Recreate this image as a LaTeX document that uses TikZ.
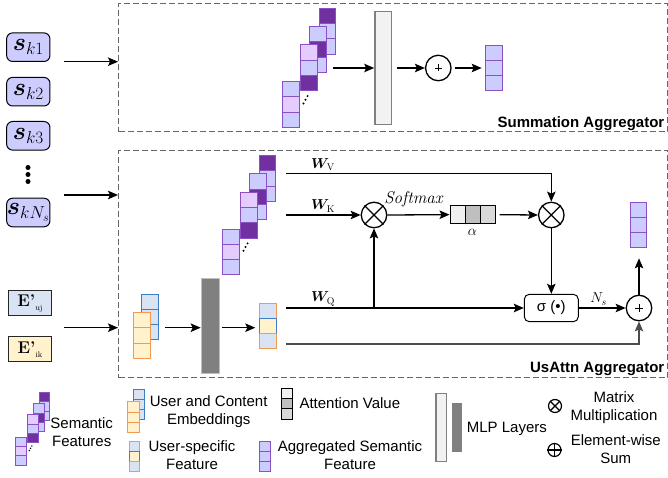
\documentclass[tikz,border=0pt]{standalone}
\usepackage{amsmath}
\usepackage{bm}
\usepackage{fontspec}
\setsansfont{Liberation Sans}
\usetikzlibrary{arrows.meta,calc}

\definecolor{semlight}{HTML}{CCCCFF}
\definecolor{sempink}{HTML}{E5CCFF}
\definecolor{semdark}{HTML}{7030A0}
\definecolor{semline}{HTML}{8B4FC6}
\definecolor{embblue}{HTML}{DAE3F3}
\definecolor{embblueline}{HTML}{3D7FC1}
\definecolor{embyel}{HTML}{FFF2CC}
\definecolor{embor}{HTML}{F19A50}
\definecolor{mlplight}{HTML}{F2F2F2}
\definecolor{mlpdark}{HTML}{808080}
\definecolor{dashgray}{HTML}{666666}
\definecolor{attA}{HTML}{F0F0F0}
\definecolor{attB}{HTML}{BFBFBF}
\definecolor{attC}{HTML}{D9D9D9}

% one stack of three cells (cell units), fills top to bottom
\newcommand\semstack[5]{%
  \draw[semcell,fill=#3] (#1,#2) rectangle ++(1,1);
  \draw[semcell,fill=#4] (#1,#2+1) rectangle ++(1,1);
  \draw[semcell,fill=#5] (#1,#2+2) rectangle ++(1,1);
}
% group of semantic stacks: x y (front stack top-left, px) cellw cellh dotradius
\newcommand\semgroup[5]{%
  \begin{scope}[shift={(#1pt,-#2pt)},x=#3pt,y=-#4pt]
    \semstack{2.2}{-4.8}{semdark}{semlight}{semlight}
    \semstack{1.65}{-3.6}{semlight}{semdark}{semlight}
    \semstack{1.1}{-2.4}{sempink}{semlight}{semdark}
    \semstack{0}{0}{semlight}{sempink}{semlight}
    \fill (1.27,1.42) circle[radius=#5pt];
    \fill (1.39,1.18) circle[radius=#5pt];
    \fill (1.51,0.94) circle[radius=#5pt];
  \end{scope}}
% column vector of three cells: x1 y1 x2 fills(3) outer-border mid-border cellh
\newcommand\vcol[9]{%
  \draw[line width=1pt,fill=#4,draw=#7] (#1,#2) rectangle (#3,#2+#9);
  \draw[line width=1pt,fill=#5,draw=#8] (#1,#2+#9) rectangle (#3,#2+2*#9);
  \draw[line width=1pt,fill=#6,draw=#7] (#1,#2+2*#9) rectangle (#3,#2+3*#9);
}

\begin{document}
\begin{tikzpicture}[x=1pt,y=-1pt,
  arr/.style={line width=1.3pt,-{Stealth[length=10pt,width=8.5pt,inset=2pt]}},
  ln/.style={line width=1.3pt},
  dbox/.style={draw=dashgray,line width=1pt,dash pattern=on 6pt off 3pt,inner sep=0pt,anchor=north west},
  sbox/.style={draw=black,line width=1pt,fill=semlight,rounded corners=6pt,minimum width=43.3pt,minimum height=28.6pt,inner sep=0pt,font=\fontsize{24}{28}\selectfont},
  ebox/.style={draw=black!85,line width=1pt,minimum width=43.4pt,minimum height=25.5pt,inner sep=0pt},
  opc/.style={circle,draw=black,line width=1.3pt,minimum size=25.5pt,inner sep=0pt},
  lopc/.style={circle,draw=black,line width=1.2pt,minimum size=13pt,inner sep=0pt},
  semcell/.style={draw=semline,line width=1pt},
  lgd/.style={font=\sffamily\fontsize{15}{18}\selectfont,align=center,inner sep=0pt},
  agg/.style={font=\sffamily\bfseries\fontsize{15}{18}\selectfont,anchor=east,inner sep=0pt},
  wlbl/.style={font=\fontsize{14}{16}\selectfont,inner sep=0pt},
]
\useasboundingbox (0,0) rectangle (668,478);

% ---------------- left inputs ----------------
\node[sbox] (sk1) at (28.3,47.2) {$\bm{s}_{k1}$};
\node[sbox] (sk2) at (28.3,91.7) {$\bm{s}_{k2}$};
\node[sbox] (sk3) at (28.3,135.8) {$\bm{s}_{k3}$};
\fill (28,167.5) circle[radius=2.5pt] (28,174.5) circle[radius=2.5pt] (28,181.5) circle[radius=2.5pt];
\node[sbox] (skN) at (28.3,212.5) {$\bm{s}_{kN_s}$};

\node[ebox,fill=embblue] (Euj) at (30,303) {{\fontsize{17}{20}\selectfont\bfseries E'}\raisebox{-4pt}{\fontsize{8}{9}\selectfont uj}};
\node[ebox,fill=embyel] (Eik) at (30,349.2) {{\fontsize{17}{20}\selectfont\bfseries E'}\raisebox{-4pt}{\fontsize{8}{9}\selectfont ik}};

% ---------------- aggregator boxes ----------------
\node[dbox,minimum width=549pt,minimum height=128.5pt] (sumbox) at (118,3) {};
\node[dbox,minimum width=549pt,minimum height=227pt] (attbox) at (118,150) {};

\coordinate (in1) at (64,61.7);
\coordinate (in2) at (64,195);
\coordinate (in3) at (64,327.7);
\draw[arr] (in1) -- (in1 -| sumbox.west);
\draw[arr] (in2) -- (in2 -| attbox.west);
\draw[arr] (in3) -- (in3 -| attbox.west);

% ---------------- Summation aggregator ----------------
\semgroup{282.3}{81.7}{16.7}{15.3}{1.1}
\coordinate (g1out) at (333,68);
\node[draw=mlpdark,fill=mlplight,line width=1.5pt,minimum width=16.7pt,minimum height=112.6pt,inner sep=0pt] (mlp1) at (383.3,68) {};
\node[opc] (sum1) at (438.3,68) {};
\draw[line width=0.9pt] ($(sum1)+(-3.5,0)$) -- ($(sum1)+(3.5,0)$) ($(sum1)+(0,-3.5)$) -- ($(sum1)+(0,3.5)$);
\vcol{485.7}{45.7}{502.3}{semlight}{semlight}{semlight}{semline}{semline}{15}
\coordinate (out1) at (485.7,68);
\draw[arr] (g1out) -- (mlp1.west);
\draw[arr,shorten <=5pt] (mlp1.east) -- (sum1.west);
\draw[arr,shorten <=3pt,shorten >=4pt] (sum1.east) -- (out1);
\node[agg] (sumlbl) at (664.5,123.5) {Summation Aggregator};

% ---------------- UsAttn aggregator ----------------
\semgroup{222.3}{229}{16.7}{15.3}{1.1}

% input embeddings
\vcol{141.7}{294.3}{158.3}{embblue}{embblue}{embblue}{embblueline}{embblueline}{15}
\vcol{133.3}{312.7}{150.7}{embyel}{embyel}{embyel}{embor}{embor}{15.2}
\coordinate (embout) at (165,327.7);
\node[draw=black!25,fill=mlpdark,line width=0.8pt,minimum width=18.3pt,minimum height=95pt,inner sep=0pt,anchor=north] (mlp2) at (210.2,278.3) {};
\vcol{259.3}{303.3}{276.7}{embblue}{embyel}{embblue}{embor}{embblueline}{15.2}
\coordinate (usf) at (259.3,327.7);
\draw[arr] (embout) -- (embout -| mlp2.west);
\draw[arr,shorten <=2pt,shorten >=4pt] (mlp2.east |- embout) -- (usf);

\coordinate (vst) at (286,173.5);
\coordinate (kst) at (286,215);
\coordinate (qst) at (286,308);
\coordinate (bst) at (286,344);

\node[opc] (mul1) at (374,215) {};
\draw[ln] (mul1.north west) -- (mul1.south east) (mul1.north east) -- (mul1.south west);
\node[opc] (mul2) at (551.3,215) {};
\draw[ln] (mul2.north west) -- (mul2.south east) (mul2.north east) -- (mul2.south west);

\fill[attA] (450,206) rectangle (465.2,223.3);
\fill[attB] (465.2,206) rectangle (480.4,223.3);
\fill[attC] (480.4,206) rectangle (495.7,223.3);
\draw[line width=1pt] (465.2,206) -- (465.2,223.3) (480.4,206) -- (480.4,223.3);
\node[draw,line width=1pt,minimum width=45.7pt,minimum height=17.3pt,inner sep=0pt] (alpha) at (472.85,214.65) {};
\node[wlbl] (alphalbl) at (472.5,232.5) {$\alpha$};

\node[draw,line width=1pt,rounded corners=5pt,minimum width=54pt,minimum height=27.4pt,inner sep=0pt,font=\sffamily\fontsize{15}{18}\selectfont] (sig) at (551.3,308) {σ (•)};
\node[opc] (add2) at (639,308) {};
\draw[line width=0.9pt] ($(add2)+(-4,0)$) -- ($(add2)+(4,0)$) ($(add2)+(0,-4)$) -- ($(add2)+(0,4)$);
\vcol{630}{202.3}{646.7}{semlight}{semlight}{semlight}{semline}{semline}{15.1}
\coordinate (out2) at (639,258.3);

\draw[arr] (vst) -| (mul2.north);
\draw[arr] (kst) -- (mul1.west);
\draw[arr] (mul1.east) -- (alpha.west);
\draw[arr,shorten <=3.5pt] (alpha.east) -- (mul2.west);
\draw[arr] (mul2.south) -- (sig.north);
\draw[arr] (qst) -- (sig.west);
\draw[arr] (mul1.south |- qst) -- (mul1.south);
\draw[arr] (sig.east) -- (add2.west);
\draw[arr,draw=black!70] (bst) -| (add2.south);
\draw[arr] (add2.north) -- (out2);

\node[wlbl] (wv) at (323,165) {$\bm{W}_{\mathrm{V}}$};
\node[wlbl] (wk) at (323,206) {$\bm{W}_{\mathrm{K}}$};
\node[wlbl] (wq) at (323,299) {$\bm{W}_{\mathrm{Q}}$};
\node[inner sep=0pt,font=\fontsize{17}{19}\selectfont\itshape] (smx) at (413.5,199) {Softmax};
\node[wlbl] (ns) at (598.5,299) {$N_s$};
\node[agg] (attlbl) at (664.5,368.5) {UsAttn Aggregator};

% ---------------- legend ----------------
\semgroup{15.7}{437.3}{10.7}{9.3}{0.8}
\node[lgd] (lsem) at (81.7,432) {Semantic\\Features};

\vcol{133.3}{389.3}{144.3}{embblue}{embblue}{embblue}{embblueline}{embblueline}{10.2}
\vcol{127.7}{401.7}{139.3}{embyel}{embyel}{embyel}{embor}{embor}{10.3}
\node[lgd] (lemb) at (208.7,411.5) {User and Content\\Embeddings};

\vcol{129}{441.7}{139.3}{embblue}{embyel}{embblue}{embor}{embblueline}{10}
\node[lgd] (lusf) at (192,455.5) {User-specific\\Feature};

\draw[line width=1pt,fill=attA] (281,388.3) rectangle (292.3,398.6);
\draw[line width=1pt,fill=attB] (281,398.6) rectangle (292.3,408.9);
\draw[line width=1pt,fill=attC] (281,408.9) rectangle (292.3,419.3);
\node[lgd,anchor=west] (latt) at (299.3,403) {Attention Value};

\vcol{259.3}{441.7}{270.7}{semlight}{semlight}{semlight}{semline}{semline}{10}
\node[lgd] (lagg) at (350,455.5) {Aggregated Semantic\\Feature};

\node[draw=mlpdark,fill=mlplight,line width=1.5pt,minimum width=10.7pt,minimum height=68.4pt,inner sep=0pt] (lmlp1) at (441.3,427.5) {};
\node[fill=mlpdark,minimum width=10pt,minimum height=48.4pt,inner sep=0pt] (lmlp2) at (456.7,427.5) {};
\node[lgd,anchor=west] (lmlp) at (466.7,429) {MLP Layers};

\node[lopc] (lmul) at (555,406) {};
\draw[line width=1.2pt] (lmul.north west) -- (lmul.south east) (lmul.north east) -- (lmul.south west);
\node[lgd] (lmultxt) at (614,408) {Matrix\\Multiplication};
\node[lopc] (ladd) at (554.5,450) {};
\draw[line width=1.2pt] (ladd.west) -- (ladd.east) (ladd.north) -- (ladd.south);
\node[lgd] (laddtxt) at (615.8,449) {Element-wise\\Sum};
\end{tikzpicture}
\end{document}
